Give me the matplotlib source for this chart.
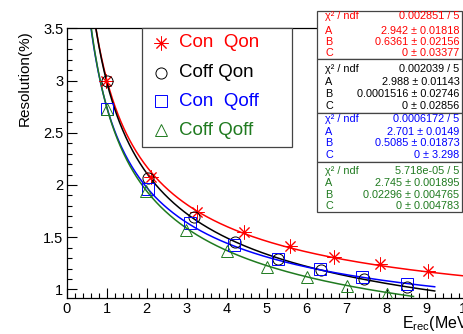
import numpy as np
import matplotlib
matplotlib.use('Agg')
import matplotlib.pyplot as plt
from matplotlib.patches import Rectangle
from matplotlib.lines import Line2D

plt.rcParams['font.family'] = ['Liberation Sans', 'DejaVu Sans']
plt.rcParams['mathtext.fontset'] = 'custom'
plt.rcParams['mathtext.rm'] = 'Liberation Sans'
plt.rcParams['mathtext.it'] = 'Liberation Sans:italic'

# ---- data ----
labels = ['Con  Qon', 'Coff Qon', 'Con  Qoff', 'Coff Qoff']
colors = ['#ff0000', '#000000', '#0000ff', '#1f7a1f']
markers = [(8, 2, 0), 'o', 's', '^']

x_con_qon = [0.98, 2.11, 3.25, 4.44, 5.58, 6.69, 7.82, 9.04]
y_con_qon = [3.00, 2.08, 1.74, 1.55, 1.415, 1.31, 1.24, 1.18]
x_coff_qon = [1.0, 2.02, 3.17, 4.21, 5.27, 6.35, 7.42, 8.5]
y_coff_qon = [3.0, 2.07, 1.69, 1.45, 1.29, 1.185, 1.10, 1.02]
x_con_qoff = [1.0, 2.04, 3.07, 4.19, 5.27, 6.33, 7.37, 8.5]
y_con_qoff = [2.73, 1.96, 1.64, 1.425, 1.29, 1.20, 1.12, 1.05]
x_coff_qoff = [1.0, 1.98, 2.98, 4.0, 5.0, 6.0, 7.01, 8.01]
y_coff_qoff = [2.73, 1.94, 1.57, 1.37, 1.21, 1.115, 1.03, 0.96]

xs = [x_con_qon, x_coff_qon, x_con_qoff, x_coff_qoff]
ys = [y_con_qon, y_coff_qon, y_con_qoff, y_coff_qoff]

# fit parameters: sigma = sqrt(A^2/E + B^2 + C^2/E^2)
fit_A = [2.942, 2.988, 2.701, 2.745]
fit_B = [0.6361, 0.0001516, 0.5085, 0.02296]
fit_C = [0.0, 0.0, 0.0, 0.0]
fit_lo = [0.5, 0.5, 0.5, 0.5]
fit_hi = [10.0, 9.2, 9.2, 8.67]

stat_rows = [
    [('χ² / ndf', '0.002851 / 5'), ('A', '2.942 ± 0.01818'), ('B', '0.6361 ± 0.02156'), ('C', '0 ± 0.03377')],
    [('χ² / ndf', '0.002039 / 5'), ('A', '2.988 ± 0.01143'), ('B', '0.0001516 ± 0.02746'), ('C', '0 ± 0.02856')],
    [('χ² / ndf', '0.0006172 / 5'), ('A', '2.701 ± 0.0149'), ('B', '0.5085 ± 0.01873'), ('C', '0 ± 3.298')],
    [('χ² / ndf', '5.718e-05 / 5'), ('A', '2.745 ± 0.001895'), ('B', '0.02296 ± 0.004765'), ('C', '0 ± 0.004783')],
]

xticks = [0, 1, 2, 3, 4, 5, 6, 7, 8, 9, 10]
yticks = [1, 1.5, 2, 2.5, 3, 3.5]
ytick_labels = ['1', '1.5', '2', '2.5', '3', '3.5']

# ---- figure ----
W, H = 463, 334
fig = plt.figure(figsize=(W / 100, H / 100), dpi=100)
def fx(px): return px / W
def fy(py): return 1 - py / H

ax = fig.add_axes([fx(66.7), fy(298.3), 400 / W, (298.3 - 28.3) / H])
ax.set_xlim(0, 10)
ax.set_ylim(0.915, 3.5)

msizes = [10, 8, 8, 8.5]
for i in range(4):
    E = np.linspace(fit_lo[i], fit_hi[i], 400)
    s = np.sqrt(fit_A[i] ** 2 / E + fit_B[i] ** 2 + fit_C[i] ** 2 / E ** 2)
    ax.plot(E, s, color=colors[i], lw=1.1, zorder=2)
for i in range(4):
    ax.plot(xs[i], ys[i], ls='none', marker=markers[i], ms=msizes[i], mfc='none',
            mec=colors[i], mew=0.7, zorder=3)

ax.set_xticks(xticks)
ax.set_xticklabels([str(t) for t in xticks])
ax.set_xticks(np.arange(0, 10.01, 0.2), minor=True)
ax.set_yticks(yticks)
ax.set_yticklabels(ytick_labels)
ax.set_yticks(np.arange(1.0, 3.51, 0.1), minor=True)
ax.tick_params(which='major', direction='in', length=7, width=0.8, labelsize=10.5)
ax.tick_params(which='minor', direction='in', length=3.5, width=0.8)
ax.tick_params(axis='x', pad=3)
ax.tick_params(axis='y', pad=2.5)
for sp in ax.spines.values():
    sp.set_linewidth(0.9)

fig.text(fx(25), fy(30), 'Resolution(%)', rotation=90, ha='center', va='top', fontsize=11)
fig.text(fx(401.5), fy(328), r'E$_{\mathrm{rec}}$(MeV)', ha='left', va='baseline', fontsize=11.5)

# legend
fig.add_artist(Rectangle((fx(141.7), fy(146.7)), (291.7 - 141.7) / W, (146.7 - 28.3) / H,
                         transform=fig.transFigure, facecolor='white', edgecolor='#444444',
                         lw=0.9, zorder=5))
leg_rows = [42.7, 72.7, 101, 130]
for i in range(4):
    fig.add_artist(Line2D([fx(160.7)], [fy(leg_rows[i])], marker=markers[i], ms=msizes[i], mfc='none',
                          mec=colors[i], mew=0.7, ls='none', transform=fig.transFigure, zorder=6))
    fig.text(fx(179.3), fy(leg_rows[i]), labels[i], color=colors[i], fontsize=13.5,
             ha='left', va='center', zorder=6)

# stats boxes
box_edges = [11, 59, 113, 162, 212]
row_y = [[16, 30.5, 42.3, 53.5], [69.5, 81.5, 94.3, 105.7],
         [119.5, 131.7, 143.3, 155], [171.5, 183.5, 195, 206]]
for b in range(4):
    top, bot = box_edges[b], box_edges[b + 1]
    fig.add_artist(Rectangle((fx(316.7), fy(bot)), (462 - 316.7) / W, (bot - top) / H,
                             transform=fig.transFigure, facecolor='white', edgecolor='#444444',
                             lw=0.9, zorder=5))
    for r, (lab, val) in enumerate(stat_rows[b]):
        fig.text(fx(325), fy(row_y[b][r]), lab, color=colors[b], fontsize=7.8,
                 ha='left', va='center', zorder=6)
        fig.text(fx(459.5), fy(row_y[b][r]), val, color=colors[b], fontsize=7.8,
                 ha='right', va='center', zorder=6)

fig.savefig('out.png', dpi=100)
